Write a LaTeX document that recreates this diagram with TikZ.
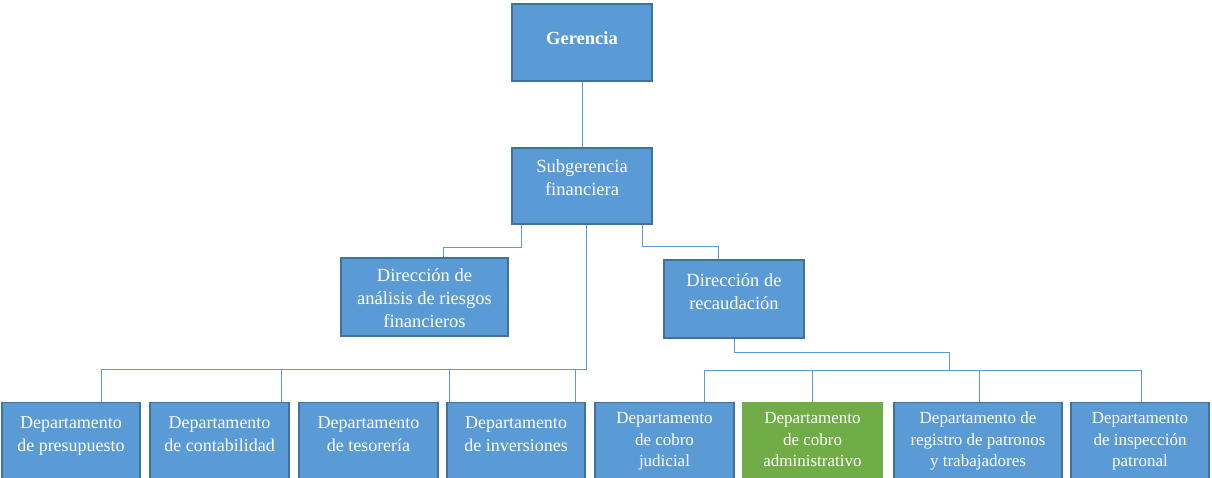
\documentclass[tikz,border=0pt]{standalone}
\usepackage{fontspec}
\setmainfont{Liberation Serif}
\usepackage{tikz}
\usetikzlibrary{calc,positioning}
\usepackage{xcolor}

\definecolor{azul}{HTML}{5B9BD5}
\definecolor{azulBorde}{HTML}{41719C}
\definecolor{verde}{HTML}{70AD47}

\tikzset{
  caja/.style={draw=azulBorde, fill=azul, line width=1.5pt, text=white, align=center,
    inner sep=0pt, anchor=north},
  cajaAlta/.style={caja, font=\fontsize{18.5}{23}\selectfont},
  depIzq/.style={caja, font=\fontsize{18}{22.5}\selectfont, text height=49pt, text depth=60pt},
  depDer/.style={caja, font=\fontsize{17}{21.5}\selectfont, text height=64.5pt, text depth=40pt},
  linea/.style={draw=azul, line width=1pt}
}

\begin{document}
\begin{tikzpicture}[x=1pt, y=-1pt]
    \useasboundingbox (0,0) rectangle (1212,477);
    \clip (0,0) rectangle (1212,477);

    % upper levels
    \node[cajaAlta, font=\fontsize{18.5}{23}\selectfont\bfseries, minimum width=140pt,
      text height=41pt, text depth=36pt] (gerencia) at (582,3) {Gerencia};
    \node[cajaAlta, minimum width=140pt, text height=48pt, text depth=28pt]
      (subgerencia) at (582,147) {Subgerencia\\financiera};
    \node[cajaAlta, minimum width=167pt, text height=70pt, text depth=8pt]
      (analisis) at (424.5,257) {Dirección de\\análisis de riesgos\\financieros};
    \node[cajaAlta, minimum width=140pt, text height=50pt, text depth=28pt]
      (recaudacion) at (734,259) {Dirección de\\recaudación};

    % departments under the subgerencia
    \node[depIzq, minimum width=138pt] (presupuesto) at (71,401.5) {Departamento\\de presupuesto};
    \node[depIzq, minimum width=139pt] (contabilidad) at (219.5,401.5) {Departamento\\de contabilidad};
    \node[depIzq, minimum width=139pt] (tesoreria) at (368.5,401.5) {Departamento\\de tesorería};
    \node[depIzq, minimum width=138pt] (inversiones) at (516,401.5) {Departamento\\de inversiones};

    % departments under the recaudacion
    \node[depDer, minimum width=139pt] (judicial) at (664.5,401.5) {Departamento\\de cobro\\judicial};
    \node[depDer, minimum width=139pt, fill=verde, draw=verde] (administrativo) at (812.5,401.5)
      {Departamento\\de cobro\\administrativo};
    \node[depDer, minimum width=168pt] (registro) at (978,401.5)
      {Departamento de\\registro de patronos\\y trabajadores};
    \node[depDer, minimum width=138pt] (inspeccion) at (1140,401.5)
      {Departamento\\de inspección\\patronal};

    % connectors, top
    \draw[linea] (gerencia.south) -- (subgerencia.north);
    \draw[linea] ([xshift=10pt]subgerencia.south west) -- ++(0,23)
      -| ([xshift=103pt]analisis.north west);
    \draw[linea] ([xshift=131pt]subgerencia.south west) -- ++(0,22)
      -| ([xshift=55pt]recaudacion.north west);

    % connectors, left bar
    \coordinate (barraIzq) at (586.5,369);
    \draw[linea] ([xshift=4.5pt]subgerencia.south) -- (barraIzq)
      -| ([xshift=30pt]presupuesto.north);
    \draw[linea] (barraIzq) -| ([xshift=61.5pt]contabilidad.north);
    \draw[linea] (barraIzq) -| ([xshift=-67pt]inversiones.north);
    \draw[linea] (barraIzq) -| ([xshift=59pt]inversiones.north);

    % connectors, right bar
    \coordinate (codoDer) at (949,352);
    \coordinate (barraDer) at (949,370);
    \draw[linea] (recaudacion.south) |- (codoDer) -- (barraDer);
    \draw[linea] (barraDer) -| ([xshift=39.5pt]judicial.north);
    \draw[linea] (barraDer) -| (administrativo.north);
    \draw[linea] (barraDer) -| ([xshift=1pt]registro.north);
    \draw[linea] (barraDer) -| ([xshift=1pt]inspeccion.north);
  \end{tikzpicture}
\end{document}
